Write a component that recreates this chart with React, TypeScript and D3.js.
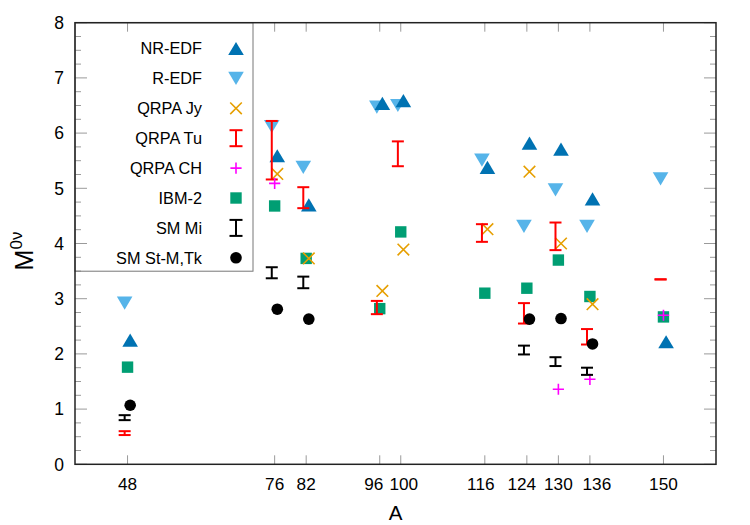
import React from "react";
import * as d3 from "d3";

// Mass numbers of the double-beta emitters
const massNumbers = [48, 76, 82, 96, 100, 116, 124, 130, 136, 150];

// Nuclear matrix elements per model (null = not computed)
const nrEdf = [2.25, 5.59, 4.70, 6.54, 6.59, 5.38, 5.82, 5.71, 4.81, 2.22];
const rEdf = [2.92, 6.12, 5.38, 6.47, 6.50, 5.51, 4.31, 4.97, 4.31, 5.17];
const qrpaJy = [null, 5.26, 3.73, 3.14, 3.89, 4.26, 5.30, 4.00, 2.90, null];
const qrpaTuLow = [0.53, 5.16, 4.64, 2.72, 5.40, 4.03, 2.55, 3.88, 2.17, 3.35];
const qrpaTuHigh = [0.60, 6.22, 5.02, 2.96, 5.85, 4.35, 2.92, 4.38, 2.45, 3.35];
const qrpaCh = [null, 5.09, null, null, null, null, null, 1.36, 1.54, 2.70];
const ibm2 = [1.76, 4.68, 3.73, 2.82, 4.21, 3.10, 3.19, 3.70, 3.04, 2.67];
const smMiLow = [0.80, 3.37, 3.19, null, null, null, 1.99, 1.78, 1.62, null];
const smMiHigh = [0.89, 3.57, 3.40, null, null, null, 2.15, 1.94, 1.75, null];
const smStMTk = [1.07, 2.81, 2.63, null, null, null, 2.63, 2.64, 2.18, null];

const yTicks = [0, 1, 2, 3, 4, 5, 6, 7, 8];

const W = 750;
const H = 525;
const plot = { left: 75, right: 716, top: 22.7, bottom: 464.3 };

const x = d3.scaleLinear().domain([38, 160]).range([plot.left, plot.right]);
const y = d3.scaleLinear().domain([0, 8]).range([plot.bottom, plot.top]);

// nudges (px) so crowded tick labels do not collide
const labelNudge: Record<number, number> = { 96: -6, 100: 3, 116: -4, 124: -5, 136: 7 };

const FONT = "'Liberation Sans', Arial, Helvetica, sans-serif";
const C = {
  nr: "#0072b2",
  r: "#56b4e9",
  jy: "#e69f00",
  tu: "#ff0000",
  ch: "#ff00ff",
  ibm: "#009e73",
  black: "#000000",
};

// small horizontal dodge (in A units) so overlapping models stay readable
const DODGE = { left: -0.55, mid: 0, right: 0.5 };

type Kind = "up" | "down" | "x" | "plus" | "square" | "dot";

function Marker({ kind, cx, cy, color }: { kind: Kind; cx: number; cy: number; color: string }) {
  const tw = 7.8;
  const th = 6.6;
  switch (kind) {
    case "up":
      return <path d={`M${cx - tw},${cy + th}L${cx + tw},${cy + th}L${cx},${cy - th}Z`} fill={color} />;
    case "down":
      return <path d={`M${cx - tw},${cy - th}L${cx + tw},${cy - th}L${cx},${cy + th}Z`} fill={color} />;
    case "x":
      return (
        <path
          d={`M${cx - 5.8},${cy - 5.8}L${cx + 5.8},${cy + 5.8}M${cx - 5.8},${cy + 5.8}L${cx + 5.8},${cy - 5.8}`}
          stroke={color}
          strokeWidth={1.6}
          fill="none"
        />
      );
    case "plus":
      return (
        <path
          d={`M${cx - 5.6},${cy}L${cx + 5.6},${cy}M${cx},${cy - 5.6}L${cx},${cy + 5.6}`}
          stroke={color}
          strokeWidth={1.6}
          fill="none"
        />
      );
    case "square":
      return <rect x={cx - 5.7} y={cy - 5.7} width={11.4} height={11.4} fill={color} />;
    case "dot":
      return <circle cx={cx} cy={cy} r={5.8} fill={color} />;
  }
}

function ErrBar({ cx, y1, y2, color, cap = 6 }: { cx: number; y1: number; y2: number; color: string; cap?: number }) {
  return (
    <g stroke={color} strokeWidth={2} fill="none">
      {y1 !== y2 && <line x1={cx} x2={cx} y1={y1} y2={y2} />}
      <line x1={cx - cap} x2={cx + cap} y1={y1} y2={y1} />
      <line x1={cx - cap} x2={cx + cap} y1={y2} y2={y2} />
    </g>
  );
}

function PointSeries({ values, kind, color, dodge }: { values: (number | null)[]; kind: Kind; color: string; dodge: number }) {
  return (
    <g>
      {values.map((v, i) =>
        v == null ? null : <Marker key={i} kind={kind} cx={x(massNumbers[i] + dodge)} cy={y(v)} color={color} />
      )}
    </g>
  );
}

function RangeSeries({ low, high, color, dodge }: { low: (number | null)[]; high: (number | null)[]; color: string; dodge: number }) {
  return (
    <g>
      {low.map((lo, i) => {
        const hi = high[i];
        if (lo == null || hi == null) return null;
        return <ErrBar key={i} cx={x(massNumbers[i] + dodge)} y1={y(hi)} y2={y(lo)} color={color} />;
      })}
    </g>
  );
}

const legendItems: { label: string; kind: Kind | "bar"; color: string }[] = [
  { label: "NR-EDF", kind: "up", color: C.nr },
  { label: "R-EDF", kind: "down", color: C.r },
  { label: "QRPA Jy", kind: "x", color: C.jy },
  { label: "QRPA Tu", kind: "bar", color: C.tu },
  { label: "QRPA CH", kind: "plus", color: C.ch },
  { label: "IBM-2", kind: "square", color: C.ibm },
  { label: "SM Mi", kind: "bar", color: C.black },
  { label: "SM St-M,Tk", kind: "dot", color: C.black },
];

export default function App() {
  const minorTicks = d3.range(0, 8.001, 0.25).filter((t) => Math.abs(t - Math.round(t)) > 1e-6);
  const tickColor = "#9a9a9a";

  return (
    <svg
      width={W}
      height={H}
      viewBox={`0 0 ${W} ${H}`}
      style={{ position: "absolute", left: 0, top: 0, background: "#fff" }}
      fontFamily={FONT}
    >
      <rect width={W} height={H} fill="#fff" />

      {/* y ticks, left and right */}
      <g stroke={tickColor} strokeWidth={1}>
        {yTicks.map((t) => (
          <g key={`M${t}`}>
            <line x1={plot.left} x2={plot.left + 12} y1={y(t)} y2={y(t)} />
            <line x1={plot.right} x2={plot.right - 12} y1={y(t)} y2={y(t)} />
          </g>
        ))}
        {minorTicks.map((t) => (
          <g key={`m${t}`}>
            <line x1={plot.left} x2={plot.left + 6} y1={y(t)} y2={y(t)} />
            <line x1={plot.right} x2={plot.right - 6} y1={y(t)} y2={y(t)} />
          </g>
        ))}
        {/* x ticks, bottom and top */}
        {massNumbers.map((a) => (
          <g key={`x${a}`}>
            <line x1={x(a)} x2={x(a)} y1={plot.bottom} y2={plot.bottom - 9} />
            <line x1={x(a)} x2={x(a)} y1={plot.top} y2={plot.top + 9} />
          </g>
        ))}
      </g>

      {/* tick labels */}
      <g fill="#000">
        {yTicks.map((t) => (
          <text key={t} x={plot.left - 11} y={y(t)} dy="0.36em" textAnchor="end" fontSize={17.5}>
            {t}
          </text>
        ))}
        {massNumbers.map((a) => (
          <text key={a} x={x(a) + (labelNudge[a] ?? 0)} y={489.5} textAnchor="middle" fontSize={17.2}>
            {a}
          </text>
        ))}
      </g>

      {/* axis titles */}
      <text x={(plot.left + plot.right) / 2} y={520} textAnchor="middle" fontSize={20.5}>
        A
      </text>
      <text transform={`translate(33,251) rotate(-90)`} textAnchor="middle" fontSize={25}>
        M
        <tspan fontSize={17} dy={-11}>
          0ν
        </tspan>
      </text>

      {/* data */}
      <PointSeries values={rEdf} kind="down" color={C.r} dodge={DODGE.left} />
      <PointSeries values={nrEdf} kind="up" color={C.nr} dodge={DODGE.right} />
      <PointSeries values={ibm2} kind="square" color={C.ibm} dodge={DODGE.mid} />
      <PointSeries values={qrpaJy} kind="x" color={C.jy} dodge={DODGE.right} />
      <RangeSeries low={qrpaTuLow} high={qrpaTuHigh} color={C.tu} dodge={DODGE.left} />
      <PointSeries values={qrpaCh} kind="plus" color={C.ch} dodge={DODGE.mid} />
      <RangeSeries low={smMiLow} high={smMiHigh} color={C.black} dodge={DODGE.left} />
      <PointSeries values={smStMTk} kind="dot" color={C.black} dodge={DODGE.right} />

      {/* legend */}
      <rect x={plot.left} y={plot.top} width={178} height={248.5} fill="none" stroke="#777" strokeWidth={1} />
      {legendItems.map((it, i) => {
        const ly = 48.5 + i * 29.9;
        return (
          <g key={it.label}>
            <text x={202} y={ly} dy="0.36em" textAnchor="end" fontSize={16.3}>
              {it.label}
            </text>
            {it.kind === "bar" ? (
              <ErrBar cx={236} y1={ly - 8} y2={ly + 8} color={it.color} cap={6.5} />
            ) : (
              <Marker kind={it.kind} cx={236} cy={ly} color={it.color} />
            )}
          </g>
        );
      })}

      {/* frame */}
      <rect
        x={plot.left}
        y={plot.top}
        width={plot.right - plot.left}
        height={plot.bottom - plot.top}
        fill="none"
        stroke="#222"
        strokeWidth={1.5}
      />
    </svg>
  );
}
